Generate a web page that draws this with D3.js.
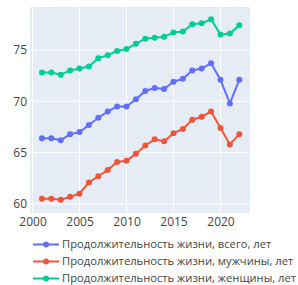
<!DOCTYPE html>
<html>
<head>
<meta charset="utf-8">
<script src="https://cdn.jsdelivr.net/npm/d3@7"></script>
<style>
  body { margin: 0; background: #fff; }
  svg { display: block; font-family: "Open Sans", Verdana, Arial, sans-serif; }
</style>
</head>
<body>
<svg id="chart" width="298" height="285"></svg>
<script>
// data
const years = [2001, 2002, 2003, 2004, 2005, 2006, 2007, 2008, 2009, 2010, 2011,
               2012, 2013, 2014, 2015, 2016, 2017, 2018, 2019, 2020, 2021, 2022];
const total = [66.4, 66.4, 66.2, 66.8, 67.0, 67.7, 68.4, 69.0, 69.5, 69.5, 70.2,
               71.0, 71.3, 71.2, 71.9, 72.2, 73.0, 73.2, 73.7, 72.1, 69.8, 72.1];
const male = [60.5, 60.5, 60.4, 60.7, 61.0, 62.1, 62.7, 63.3, 64.1, 64.2, 64.9,
              65.7, 66.3, 66.1, 66.9, 67.3, 68.2, 68.5, 69.0, 67.4, 65.8, 66.8];
const female = [72.8, 72.8, 72.6, 73.0, 73.2, 73.4, 74.2, 74.5, 74.9, 75.1, 75.6,
                76.1, 76.2, 76.3, 76.7, 76.8, 77.5, 77.6, 78.0, 76.5, 76.6, 77.4];
const seriesNames = ["Продолжительность жизни, всего, лет",
                     "Продолжительность жизни, мужчины, лет",
                     "Продолжительность жизни, женщины, лет"];
const xTicks = [2000, 2005, 2010, 2015, 2020];
const yTicks = [60, 65, 70, 75];

const colors = ["#636efa", "#ef553b", "#00cc96"];
const series = [total, male, female];

const plot = {left: 30, right: 250, top: 7, bottom: 213};
const svg = d3.select("#chart");

const x = d3.scaleLinear().domain([1999.73, 2023.14]).range([plot.left, plot.right]);
const y = d3.scaleLinear().domain([59.12, 79.19]).range([plot.bottom, plot.top]);

// background
svg.append("rect")
    .attr("x", plot.left).attr("y", plot.top)
    .attr("width", plot.right - plot.left).attr("height", plot.bottom - plot.top)
    .attr("fill", "#e5ecf6");

// grid lines
svg.append("g").selectAll("line").data(xTicks).enter().append("line")
    .attr("x1", d => x(d)).attr("x2", d => x(d))
    .attr("y1", plot.top).attr("y2", plot.bottom)
    .attr("stroke", "#fff").attr("stroke-width", 1);
svg.append("g").selectAll("line").data(yTicks).enter().append("line")
    .attr("x1", plot.left).attr("x2", plot.right)
    .attr("y1", d => y(d)).attr("y2", d => y(d))
    .attr("stroke", "#fff").attr("stroke-width", 1);

// axes (labels only)
const xAxis = d3.axisBottom(x).tickValues(xTicks).tickFormat(d3.format("d")).tickSize(0).tickPadding(4);
const gx = svg.append("g").attr("transform", "translate(0," + plot.bottom + ")").call(xAxis);
const yAxis = d3.axisLeft(y).tickValues(yTicks).tickSize(0).tickPadding(3);
const gy = svg.append("g").attr("transform", "translate(" + plot.left + ",0)").call(yAxis);
[gx, gy].forEach(g => {
    g.select(".domain").remove();
    g.selectAll("text").attr("fill", "#444").style("font-size", "12px")
     .style("font-family", '"Open Sans", Verdana, Arial, sans-serif');
});

// lines + markers
const line = d3.line().x((d, i) => x(years[i])).y(d => y(d));
series.forEach((s, k) => {
    svg.append("path").datum(s)
        .attr("d", line)
        .attr("fill", "none")
        .attr("stroke", colors[k])
        .attr("stroke-width", 2)
        .attr("stroke-linejoin", "round");
    svg.append("g").selectAll("circle").data(s).enter().append("circle")
        .attr("cx", (d, i) => x(years[i]))
        .attr("cy", d => y(d))
        .attr("r", 3)
        .attr("fill", colors[k]);
});

// legend
const legend = svg.append("g").attr("transform", "translate(0,244.5)");
const item = legend.selectAll("g").data(seriesNames).enter().append("g")
    .attr("transform", (d, i) => "translate(0," + (i * 17) + ")");
item.append("line")
    .attr("x1", 33).attr("x2", 59).attr("y1", 0).attr("y2", 0)
    .attr("stroke", (d, i) => colors[i]).attr("stroke-width", 2);
item.append("circle")
    .attr("cx", 46).attr("cy", 0).attr("r", 3)
    .attr("fill", (d, i) => colors[i]);
item.append("text")
    .attr("x", 62).attr("y", 0).attr("dy", "0.35em")
    .attr("fill", "#444").style("font-size", "11.2px")
    .text(d => d);
</script>
</body>
</html>
